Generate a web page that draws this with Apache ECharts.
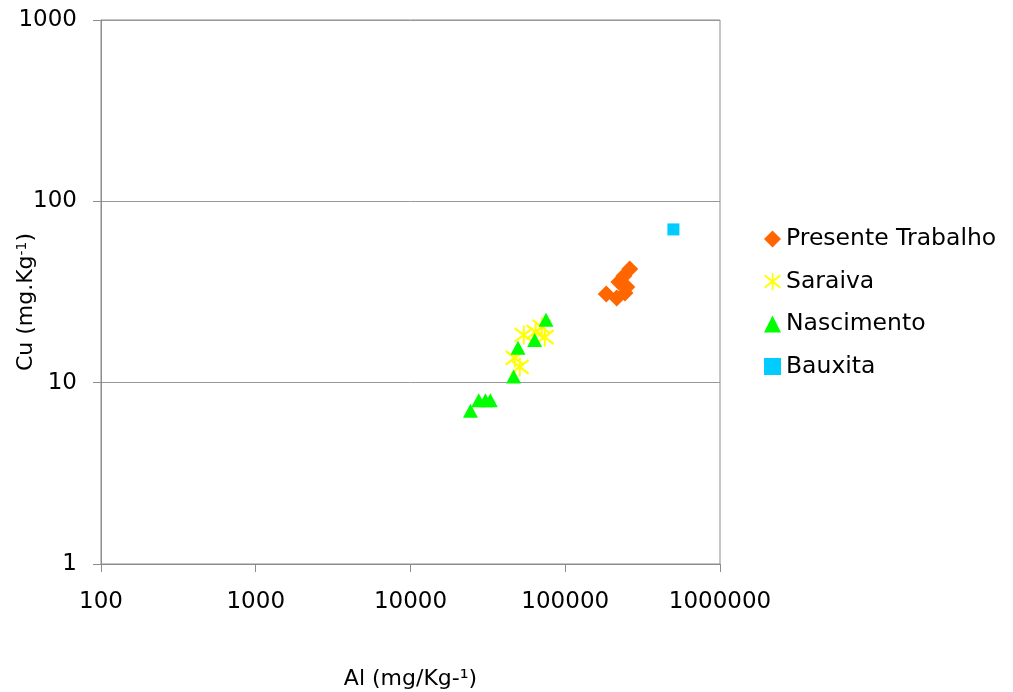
<!DOCTYPE html>
<html>
<head>
<meta charset="utf-8">
<script src="https://cdn.jsdelivr.net/npm/echarts@6/dist/echarts.min.js"></script>
<style>
html,body{margin:0;padding:0;background:#fff;}
#chart{width:1013px;height:692px;}
</style>
</head>
<body>
<div id="chart"></div>
<script>
const seriesNames = ['Presente Trabalho', 'Saraiva', 'Nascimento', 'Bauxita'];
const presenteTrabalho = [[184000, 30.8], [215000, 29.3], [222000, 35.9], [239000, 38.7], [243000, 31.2], [250000, 33.7], [261000, 42.3]];
const saraiva = [[47100, 13.7], [50800, 12.2], [53900, 18.3], [64400, 19.0], [70400, 20.3], [73700, 17.8]];
const nascimento = [[24400, 7.0], [27600, 8.0], [30500, 8.0], [32800, 8.0], [46400, 10.8], [49500, 15.6], [63400, 17.2], [75100, 22.2]];
const bauxita = [[500000, 70]];
const xTickLabels = ['100', '1000', '10000', '100000', '1000000'];
const yTickLabels = ['1', '10', '100', '1000'];

const starPath = 'path://M9 0 L11 0 L11 20 L9 20 Z M1.2 1.7 L19.7 16.1 L18.5 18.2 L0.1 3.8 Z M18.5 1.7 L19.7 3.8 L1.2 18.2 L0.1 16.1 Z';
const FONT = 'DejaVu Sans';

const chart = echarts.init(document.getElementById('chart'), null, {renderer: 'canvas'});
chart.setOption({
  animation: false,
  backgroundColor: '#ffffff',
  grid: {left: 101, top: 20, right: 293, bottom: 128, show: true, borderColor: '#8c8c8c', borderWidth: 1,
         containLabel: false, outerBoundsMode: 'none'},
  legend: {
    orient: 'vertical', left: 759, top: 222, itemGap: 18.5, itemWidth: 17, itemHeight: 17,
    textStyle: {fontFamily: FONT, fontSize: 23.5, color: '#000', padding: [0, 0, 0, 0]},
    data: seriesNames
  },
  xAxis: {
    type: 'log', logBase: 10, min: 100, max: 1000000, interval: 1,
    name: 'Al (mg/Kg-¹)', nameLocation: 'middle', nameGap: 104, nameMoveOverlap: false,
    nameTextStyle: {fontFamily: FONT, fontSize: 22, color: '#000'},
    axisLine: {show: true, lineStyle: {color: '#8c8c8c', width: 1}},
    axisTick: {show: true, inside: false, length: 8, lineStyle: {color: '#8c8c8c'}},
    minorTick: {show: false},
    splitLine: {show: false},
    axisLabel: {fontFamily: FONT, fontSize: 23, color: '#000', margin: 27,
      formatter: (v, i) => xTickLabels[i]}
  },
  yAxis: {
    type: 'log', logBase: 10, min: 1, max: 1000, interval: 1,
    name: 'Cu (mg.Kg{sup|-1})', nameLocation: 'middle', nameGap: 64, nameRotate: 90, nameMoveOverlap: false,
    nameTextStyle: {fontFamily: FONT, fontSize: 22, color: '#000', padding: [0, 20, 0, 0],
      rich: {sup: {fontFamily: FONT, fontSize: 14, color: '#000', verticalAlign: 'top', padding: [0, 0, 8, 0]}}},
    axisLine: {show: true, lineStyle: {color: '#8c8c8c', width: 1}},
    axisTick: {show: true, inside: false, length: 8, lineStyle: {color: '#8c8c8c'}},
    splitLine: {show: true, lineStyle: {color: '#999999', width: 1}},
    axisLabel: {fontFamily: FONT, fontSize: 23, color: '#000', margin: 24,
      formatter: (v, i) => yTickLabels[i]}
  },
  series: [
    {name: seriesNames[0], type: 'scatter', data: presenteTrabalho, symbol: 'diamond', symbolSize: 17,
     itemStyle: {color: '#FF6600', opacity: 1}},
    {name: seriesNames[1], type: 'scatter', data: saraiva, symbol: starPath, symbolSize: 19,
     itemStyle: {color: '#FFFF00', opacity: 1}},
    {name: seriesNames[2], type: 'scatter', data: nascimento, symbol: 'triangle', symbolSize: [15, 14],
     itemStyle: {color: '#00FF00', opacity: 1}},
    {name: seriesNames[3], type: 'scatter', data: bauxita, symbol: 'rect', symbolSize: 12,
     itemStyle: {color: '#00CCFF', opacity: 1}}
  ]
});
</script>
</body>
</html>
